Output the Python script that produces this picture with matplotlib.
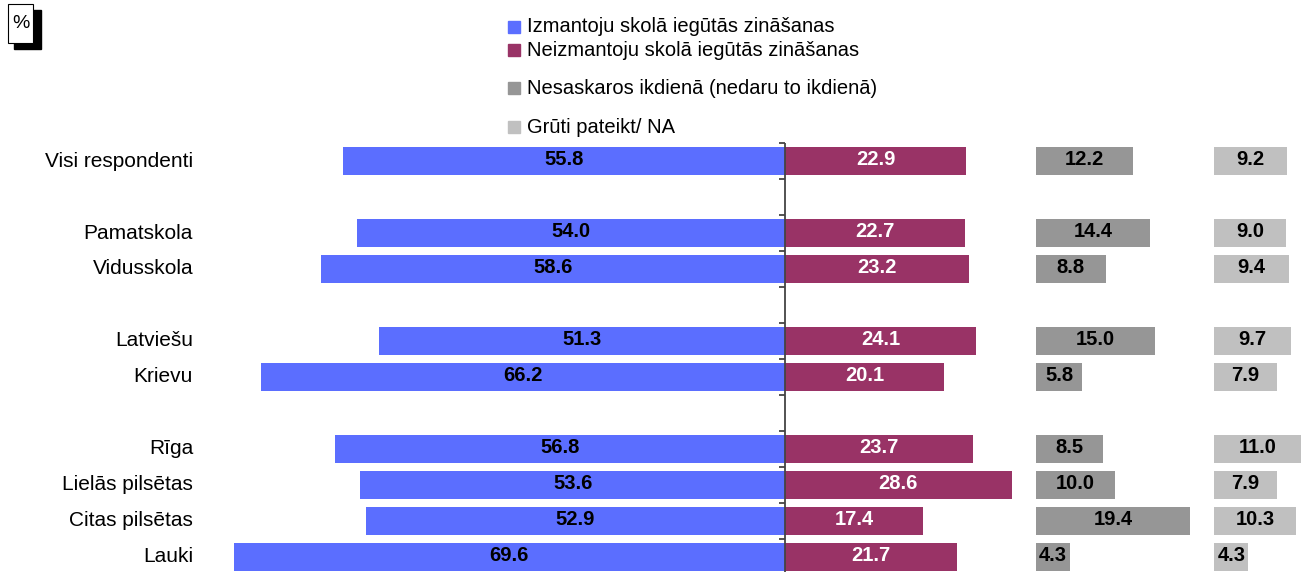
import numpy as np
import matplotlib
matplotlib.use("Agg")
import matplotlib.pyplot as plt
from matplotlib.patches import Rectangle

plt.rcParams["font.family"] = ["Liberation Sans", "DejaVu Sans"]

# --- données ---
categories = ["Visi respondenti", "Pamatskola", "Vidusskola", "Latviešu", "Krievu",
              "Rīga", "Lielās pilsētas", "Citas pilsētas", "Lauki"]
rows = [0, 2, 3, 5, 6, 8, 9, 10, 11]
izmantoju = [55.8, 54.0, 58.6, 51.3, 66.2, 56.8, 53.6, 52.9, 69.6]
neizmantoju = [22.9, 22.7, 23.2, 24.1, 20.1, 23.7, 28.6, 17.4, 21.7]
nesaskaros = [12.2, 14.4, 8.8, 15.0, 5.8, 8.5, 10.0, 19.4, 4.3]
gruti = [9.2, 9.0, 9.4, 9.7, 7.9, 11.0, 7.9, 10.3, 4.3]
series_names = ["Izmantoju skolā iegūtās zināšanas", "Neizmantoju skolā iegūtās zināšanas",
                "Nesaskaros ikdienā (nedaru to ikdienā)", "Grūti pateikt/ NA"]

colors = ["#5B6EFF", "#993366", "#969696", "#C0C0C0"]
W, H = 1304, 572
gap = 3.1
off_gray = max(neizmantoju) + gap
off_light = off_gray + max(nesaskaros) + gap

fig = plt.figure(figsize=(W / 100, H / 100), dpi=100)
ax = fig.add_axes([200 / W, 0, 1 - 200 / W, 1])
scale = 7.92  # px par unité
ax.set_xlim(-(785 - 200) / scale, (W - 785) / scale)
ax.set_ylim((H - 161) / 36, -161 / 36)

h = 0.77
b1 = ax.barh(rows, [-v for v in izmantoju], height=h, color=colors[0])
b2 = ax.barh(rows, neizmantoju, height=h, color=colors[1])
b3 = ax.barh(rows, nesaskaros, left=off_gray, height=h, color=colors[2])
b4 = ax.barh(rows, gruti, left=off_light, height=h, color=colors[3])

for bars, vals, tc in [(b1, izmantoju, "black"), (b2, neizmantoju, "white"),
                       (b3, nesaskaros, "black"), (b4, gruti, "black")]:
    for r, v in zip(bars, vals):
        cx = r.get_x() + r.get_width() / 2
        ax.text(cx, r.get_y() + r.get_height() / 2 - 0.03, f"{v:.1f}", ha="center", va="center",
                color=tc, fontsize=14.5, fontweight="bold")

# axe central + graduations
ax.vlines(0, -0.5, (H - 161) / 36, color="#444444", lw=1.3)
ax.hlines(np.arange(-0.5, 12, 1), -0.8, 0, color="#444444", lw=1.3)

ax.set_yticks(rows)
ax.set_yticklabels(categories, fontsize=15, va="center")
ax.tick_params(axis="y", length=0, pad=5)
ax.set_xticks([])
for s in ax.spines.values():
    s.set_visible(False)

# légende
for name, c, yc in zip(series_names, colors, [27, 50, 88, 127]):
    fig.patches.append(Rectangle((508 / W, 1 - (yc + 6) / H), 12 / W, 12 / H,
                                 transform=fig.transFigure, color=c))
    fig.text(527 / W, 1 - yc / H, name, fontsize=14.5, va="center", ha="left")

# boîte "%"
fig.patches.append(Rectangle((14 / W, 1 - 49 / H), 27 / W, 39 / H,
                             transform=fig.transFigure, color="black"))
fig.patches.append(Rectangle((8 / W, 1 - 43 / H), 25 / W, 39 / H, transform=fig.transFigure,
                             facecolor="white", edgecolor="black", lw=0.8))
fig.text(20.5 / W, 1 - 23 / H, "%", fontsize=14, ha="center", va="center")

fig.savefig("out.png", dpi=100)
